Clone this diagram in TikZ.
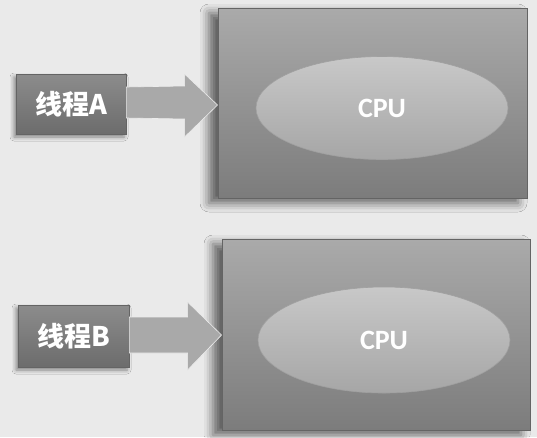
\documentclass[tikz,border=0pt]{standalone}
\usepackage{fontspec}
\setmainfont{Carlito}
\newfontfamily\cjk{Noto Sans CJK SC}
\usetikzlibrary{shapes.geometric,shadows.blur,calc}
\definecolor{bgc}{HTML}{EAEAEA}
\definecolor{rtop}{HTML}{AAAAAA}
\definecolor{rbot}{HTML}{7C7C7C}
\definecolor{rline}{HTML}{646464}
\definecolor{etop}{HTML}{C8C8C8}
\definecolor{ebot}{HTML}{A6A6A6}
\definecolor{eline}{HTML}{A0A0A0}
\definecolor{ltop}{HTML}{8C8C8C}
\definecolor{lbot}{HTML}{6C6C6C}
\definecolor{arrc}{HTML}{A9A9A9}
\tikzset{
  cpubox/.style={draw=rline, line width=0.9pt, top color=rtop, bottom color=rbot,
    minimum width=#1, inner sep=0pt,
    blur shadow={shadow xshift=-9pt, shadow yshift=-5pt, shadow blur radius=9pt, shadow opacity=60}},
  cpuell/.style={ellipse, draw=eline, line width=0.6pt, top color=etop, bottom color=ebot, inner sep=0pt,
    font=\bfseries\fontsize{28}{28}\selectfont, text=white},
  thr/.style={draw=rline, line width=0.6pt, top color=ltop, bottom color=lbot, inner sep=0pt,
    font=\cjk\bfseries\fontsize{27}{27}\selectfont, text=white,
    blur shadow={shadow xshift=-2pt, shadow yshift=-3pt, shadow blur radius=4pt, shadow opacity=45}},
  fatarrow/.style={fill=arrc, draw=white!85!gray, line width=0.6pt}
}
\begin{document}
\begin{tikzpicture}[x=1pt,y=-1pt]
\useasboundingbox (0,0) rectangle (537,437);
\fill[bgc] (0,0) rectangle (537,437);

% top pair
\node[cpubox=309pt, minimum height=190pt] (rA) at (372.5,103) {};
\node[cpuell, minimum width=252pt, minimum height=103pt] (eA) at (382,108) {\raisebox{-3pt}{CPU}};
\node[thr, minimum width=110pt, minimum height=60pt] (lA) at (71,104) {线程A};
\coordinate (tA) at (rA.west |- 0,105);
\fill[fatarrow] ($(lA.east)+(0,-17)$) -- ($(tA)+(-33,-19)$) -- ($(tA)+(-33,-31)$)
  -- (tA) -- ($(tA)+(-33,32)$) -- ($(tA)+(-33,14)$) -- ($(lA.east)+(0,14)$) -- cycle;

% bottom pair
\node[cpubox=308pt, minimum height=191pt] (rB) at (376,334.5) {};
\node[cpuell, minimum width=252pt, minimum height=106pt] (eB) at (384,340) {\raisebox{-3pt}{CPU}};
\node[thr, minimum width=111pt, minimum height=62pt] (lB) at (73.5,336) {线程B};
\coordinate (tB) at (rB.west |- 0,335);
\fill[fatarrow] ($(lB.east)+(0,-19)$) -- ($(tB)+(-34,-18)$) -- ($(tB)+(-34,-33)$)
  -- (tB) -- ($(tB)+(-34,35)$) -- ($(tB)+(-34,18)$) -- ($(lB.east)+(0,17)$) -- cycle;
\end{tikzpicture}
\end{document}
